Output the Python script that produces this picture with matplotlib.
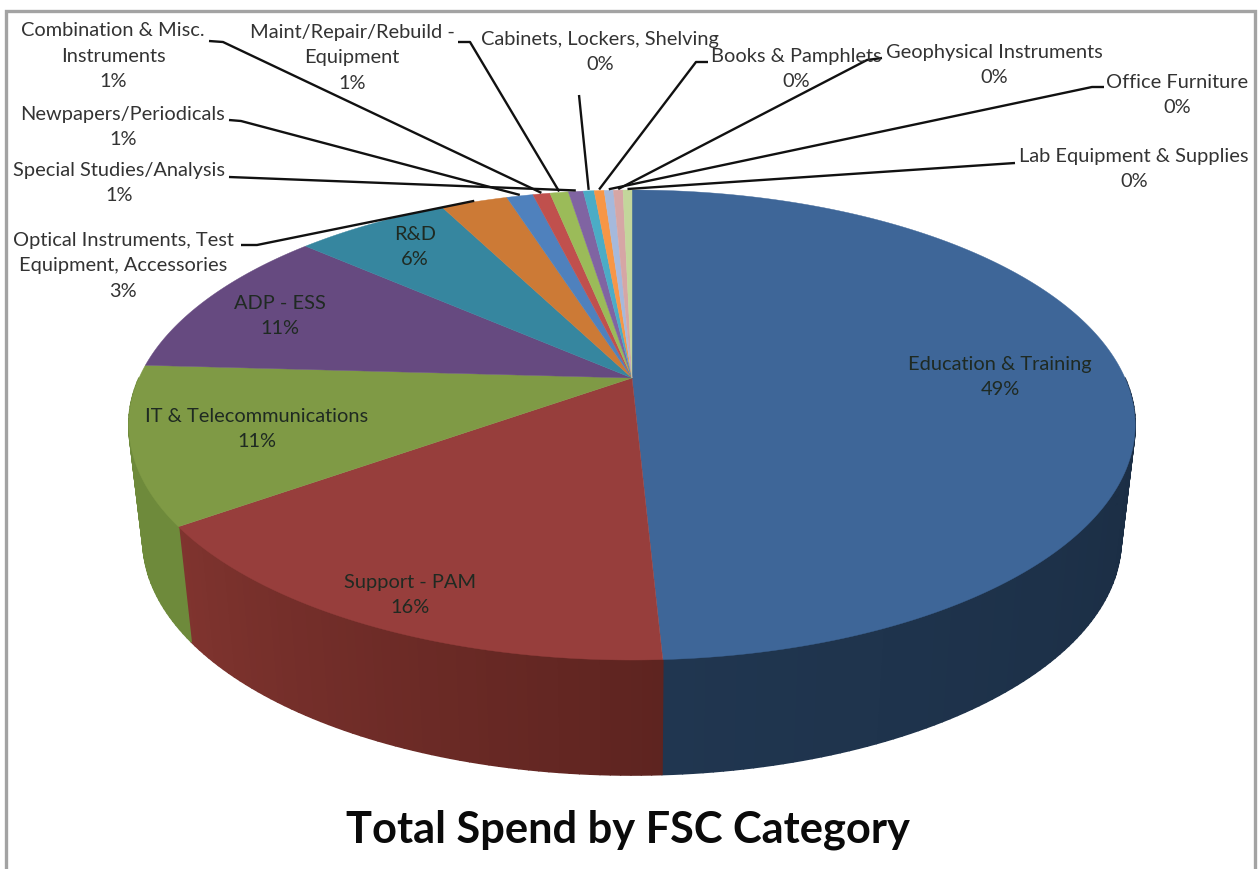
import numpy as np
import matplotlib
matplotlib.use("Agg")
import matplotlib.pyplot as plt
from matplotlib.collections import PolyCollection
from matplotlib.colors import to_rgb

plt.rcParams['font.family'] = ['Lato', 'DejaVu Sans']

# Spend share per FSC category, percent, clockwise from twelve o'clock
categories = [
    "Education & Training", "Support - PAM", "IT & Telecommunications", "ADP - ESS", "R&D",
    "Optical Instruments, Test\nEquipment, Accessories", "Newpapers/Periodicals",
    "Combination & Misc.\nInstruments", "Maint/Repair/Rebuild -\nEquipment",
    "Special Studies/Analysis", "Cabinets, Lockers, Shelving", "Books & Pamphlets",
    "Office Furniture", "Geophysical Instruments", "Lab Equipment & Supplies",
]
spend_share = [49.2, 15.9, 10.8, 10.6, 6.0, 2.6, 1.03, 0.67, 0.72, 0.58, 0.42, 0.39, 0.36, 0.37, 0.35]
top_colors = ["#3e6698", "#973e3c", "#7f9a45", "#664a80", "#36869f", "#cc7a36", "#4f81bd",
              "#c0504d", "#9bbb59", "#8064a2", "#4bacc6", "#f79646", "#a5b9dc", "#d6a6a5", "#c3d69b"]
# Wall shade at the start and the end of each slice's visible rim
wall_start = ["#1a2c42", "#5e2420", "#6e8a3b"] + ["#555555"] * 12
wall_end = ["#203650", "#80342f", "#6e8a3b"] + ["#555555"] * 12

# Label centres in pixels; slices without a leader carry their label inside
label_pos = [(1000, 377), (410, 595), (257, 429), (280, 316), (415, 247),
             (123, 266), (123, 127), (113, 56), (352, 58), (119, 183),
             (600, 52), (796, 69), (1177, 95), (994, 65), (1134, 169)]
leader_start = [None, None, None, None, None,
                [(241, 245), (257, 245)], [(229, 120), (241, 121)], [(209, 41), (223, 42)],
                [(458, 42), (470, 42)], [(229, 177)], [(579, 95)], [(708, 62), (696, 62)],
                [(1104, 87), (1092, 87)], [(882, 58), (867, 60)], [(1015, 163)]]

# Projection of the tilted disc onto the page
CX, CY_TOP, CY_BOTTOM = 632, 378, 493
SCALE_X, SCALE_Y, TILT = 493, 225.6, 0.2
BOTTOM_SHRINK = 0.972


def rim_point(theta, bottom=False):
    """Page position of a rim point, theta in degrees clockwise from the far edge."""
    t = np.radians(theta)
    w = 1 + TILT * np.cos(t)
    if bottom:
        return CX + BOTTOM_SHRINK * SCALE_X * np.sin(t) / w, CY_BOTTOM - SCALE_Y * np.cos(t) / w
    return CX + SCALE_X * np.sin(t) / w, CY_TOP - SCALE_Y * np.cos(t) / w


fig = plt.figure(figsize=(12.59, 8.69), dpi=100, facecolor="white")
ax = fig.add_axes([0, 0, 1, 1])
ax.set_xlim(0, 1259)
ax.set_ylim(869, 0)
ax.axis("off")

edges = np.concatenate([[0], np.cumsum(spend_share) / np.sum(spend_share) * 360])

# Picture frame, open at the lower edge
ax.plot([6, 6, 1255, 1255], [869, 11, 11, 869], color="#a3a3a3", lw=2.4, solid_joinstyle="miter")

# Outer wall, drawn first so the top surface covers its hidden part
for i in range(len(spend_share)):
    lo, hi = max(edges[i], 90), min(edges[i + 1], 270)
    if hi <= lo:
        continue
    steps = np.linspace(lo, hi, int(hi - lo) + 2)
    c0, c1 = np.array(to_rgb(wall_start[i])), np.array(to_rgb(wall_end[i]))
    quads = [[rim_point(a), rim_point(b), rim_point(b, True), rim_point(a, True)]
             for a, b in zip(steps[:-1], steps[1:])]
    shades = [c0 + (c1 - c0) * ((a - lo) / (hi - lo)) for a in steps[:-1]]
    ax.add_collection(PolyCollection(quads, facecolors=shades, edgecolors=shades, linewidths=1.2, zorder=2))

# Top surface
for i in range(len(spend_share)):
    thetas = np.linspace(edges[i], edges[i + 1], max(int((edges[i + 1] - edges[i]) * 2), 2) + 1)
    xs, ys = rim_point(thetas)
    ax.fill(np.r_[CX, xs], np.r_[CY_TOP, ys], facecolor=top_colors[i], edgecolor=top_colors[i], lw=0.3, zorder=3)

# Leader lines run from each outer label to the middle of its slice's rim
for i, start in enumerate(leader_start):
    if start is None:
        continue
    ex, ey = rim_point((edges[i] + edges[i + 1]) / 2)
    pts = list(start) + [(ex, ey - 1)]
    ax.plot(*zip(*pts), color="#111111", lw=1.7, zorder=4, solid_capstyle="butt")

# Category labels with the rounded share
for i, name in enumerate(categories):
    inside = leader_start[i] is None
    ax.text(*label_pos[i], f"{name}\n{spend_share[i]:.0f}%", ha="center", va="center",
            fontsize=14.4, linespacing=1.62, color="#1f2a22" if inside else "#333333", zorder=5)

ax.text(628, 830, "Total Spend by FSC Category", ha="center", va="center",
        fontsize=31.2, fontweight="bold", color="#0a0a0a", zorder=5)

fig.savefig("out.png", dpi=100)
